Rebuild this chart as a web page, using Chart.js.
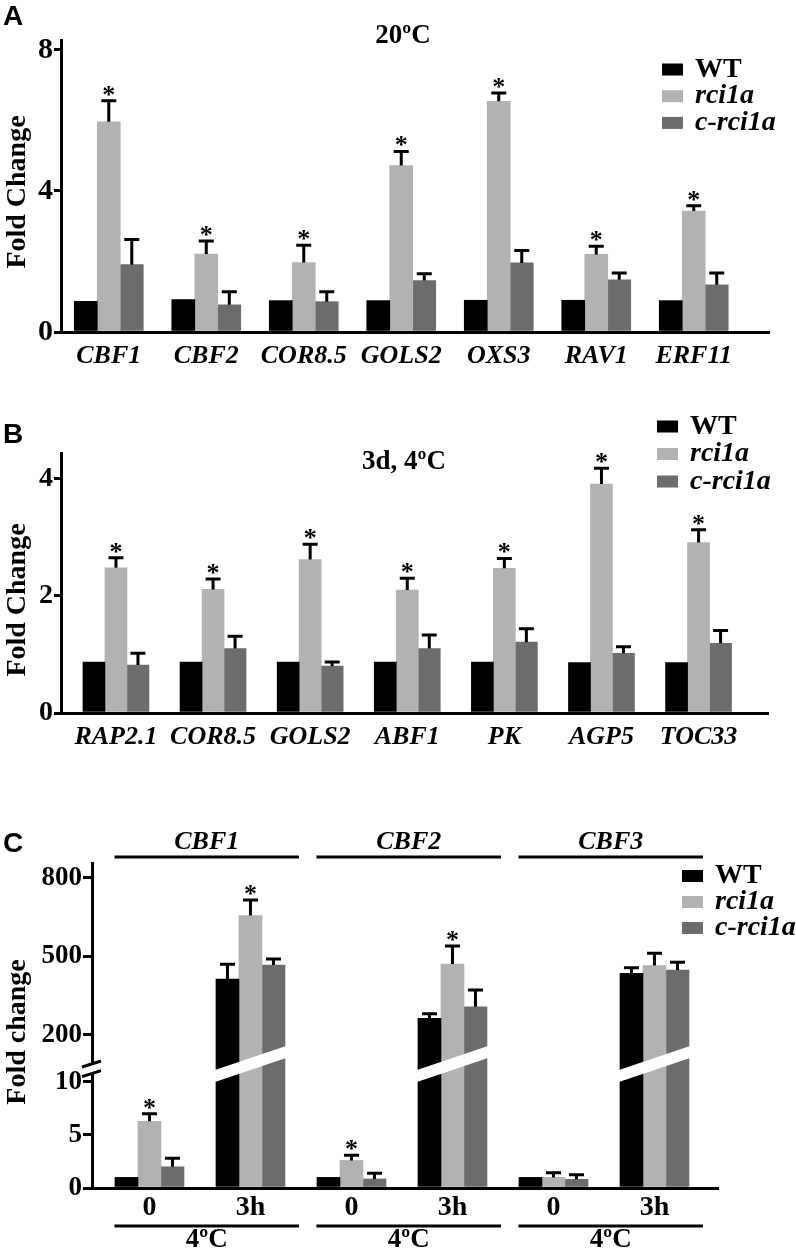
<!DOCTYPE html>
<html lang="en">

<head>
  <meta charset="UTF-8">
  <title>rci1a fold change</title>
  <script src="https://cdn.jsdelivr.net/npm/chart.js"></script>
  <style>
    body { margin: 0; background: #fff; }
    #fig { position: relative; width: 796px; height: 1259px; }
    canvas { position: absolute; left: 0; }
  </style>
</head>

<body>
  <div id="fig">
    <canvas id="chartA" width="796" height="385" style="top:0px"></canvas>
    <canvas id="chartB" width="796" height="405" style="top:385px"></canvas>
    <canvas id="chartC" width="796" height="469" style="top:790px"></canvas>
  </div>
  <script>
    // ---- data ----
    const series = ['WT', 'rci1a', 'c-rci1a'];
    const colors = ['#000000', '#b2b2b2', '#6c6c6c'];

    // A: 20ºC
    const genesA = ['CBF1', 'CBF2', 'COR8.5', 'GOLS2', 'OXS3', 'RAV1', 'ERF11'];
    const wtA = [0.87, 0.92, 0.89, 0.89, 0.90, 0.90, 0.89];
    const rciA = [5.96, 2.21, 1.97, 4.72, 6.54, 2.20, 3.43];
    const crciA = [1.91, 0.77, 0.86, 1.46, 1.96, 1.48, 1.34];
    const rciErrA = [0.60, 0.37, 0.49, 0.40, 0.24, 0.23, 0.15];
    const crciErrA = [0.71, 0.37, 0.28, 0.19, 0.35, 0.19, 0.33];
    const starsA = [true, true, true, true, true, true, true];
    const yTicksA = [0, 4, 8];

    // B: 3d, 4ºC
    const genesB = ['RAP2.1', 'COR8.5', 'GOLS2', 'ABF1', 'PK', 'AGP5', 'TOC33'];
    const wtB = [0.87, 0.87, 0.87, 0.87, 0.87, 0.86, 0.86];
    const rciB = [2.48, 2.11, 2.62, 2.10, 2.47, 3.91, 2.91];
    const crciB = [0.82, 1.10, 0.80, 1.10, 1.21, 1.02, 1.19];
    const rciErrB = [0.17, 0.18, 0.26, 0.20, 0.17, 0.27, 0.22];
    const crciErrB = [0.20, 0.21, 0.07, 0.23, 0.23, 0.11, 0.22];
    const starsB = [true, true, true, true, true, true, true];
    const yTicksB = [0, 2, 4];

    // C: CBF time course
    const genesC = ['CBF1', 'CBF2', 'CBF3'];
    const timesC = ['0', '3h', '0', '3h', '0', '3h'];
    const conditionC = '4ºC';
    const wtC = [1.0, 414, 1.0, 264, 1.0, 436];
    const rciC = [6.3, 656, 2.6, 471, 1.0, 465];
    const crciC = [2.0, 467, 0.85, 308, 0.82, 448];
    const wtErrC = [null, 56, null, 17, null, 21];
    const rciErrC = [0.7, 60, 0.5, 69, 0.45, 47];
    const crciErrC = [0.8, 23, 0.55, 64, 0.43, 30];
    const starsC = [true, true, true, true, false, false];
    const yTicksC = [0, 5, 10, 200, 500, 800];

    const SERIF = "'Liberation Serif', 'Times New Roman', serif";
    Chart.defaults.font.family = SERIF;
    Chart.defaults.color = '#000';

    // broken y scale: value -> fraction of the axis height, piecewise
    const breakLow = 10.5, breakHigh = 93;
    const breakMap = [[0, 0], [breakLow, 0.3425], [breakHigh, 0.3846], [857, 1]];

    class BrokenScale extends Chart.LinearScale {
      static id = 'broken';
      static defaults = Chart.LinearScale.defaults;
      getPixelForValue(value) {
        if (value === null || isNaN(value)) return NaN;
        let f = 0;
        for (let i = 1; i < breakMap.length; i++) {
          const [v0, f0] = breakMap[i - 1], [v1, f1] = breakMap[i];
          if (value <= v1 || i === breakMap.length - 1) {
            f = f0 + (value - v0) / (v1 - v0) * (f1 - f0);
            break;
          }
        }
        return this.bottom - f * (this.bottom - this.top);
      }
      getValueForPixel(pixel) {
        const f = (this.bottom - pixel) / (this.bottom - this.top);
        for (let i = 1; i < breakMap.length; i++) {
          const [v0, f0] = breakMap[i - 1], [v1, f1] = breakMap[i];
          if (f <= f1 || i === breakMap.length - 1) return v0 + (f - f0) / (f1 - f0) * (v1 - v0);
        }
      }
    }
    Chart.register(BrokenScale);

    function buildDatasets(values, thickness) {
      return series.map(function (name, s) {
        return {
          label: name,
          data: values[s].map(function (v, i) { return { x: i, y: v }; }),
          backgroundColor: colors[s],
          borderWidth: 0,
          barThickness: thickness
        };
      });
    }

    function xAxis(labels, min, max, font, padding, height) {
      return {
        type: 'linear', min: min, max: max, offset: false, bounds: 'data',
        afterBuildTicks: function (s) { s.ticks = labels.map(function (_, i) { return { value: i }; }); },
        afterFit: function (s) { s.height = height; },
        ticks: {
          callback: function (v) { return labels[v]; },
          font: font, padding: padding, autoSkip: false, maxRotation: 0, minRotation: 0, color: '#000'
        },
        grid: { display: false, drawTicks: false },
        border: { color: '#000', width: 3 }
      };
    }

    function yAxis(type, ticks, max, width, fontSize, tickLength) {
      return {
        type: type, min: 0, max: max, bounds: 'data',
        afterBuildTicks: function (s) { s.ticks = ticks.map(function (v) { return { value: v }; }); },
        afterFit: function (s) { s.width = width; },
        ticks: {
          callback: function (v) { return String(v); },
          font: { size: fontSize, weight: 'bold' }, padding: 1, color: '#000'
        },
        grid: { drawOnChartArea: false, drawTicks: true, tickLength: tickLength, color: '#000', lineWidth: 3 },
        border: { color: '#000', width: 3 }
      };
    }

    function decoPlugin(cfg) {
      return {
        id: 'deco',
        afterDatasetsDraw(chart) {
          const ctx = chart.ctx, xs = chart.scales.x, ys = chart.scales.y;
          ctx.save();
          // white slash on bars that cross the axis break
          if (cfg.broken) {
            const bw = cfg.barWidth;
            const mid = ys.getPixelForValue(breakHigh) + 1;
            timesC.forEach(function (_, i) {
              const crosses = chart.data.datasets.every(function (ds) { return ds.data[i].y > breakHigh; });
              if (!crosses) return;
              const xc = xs.getPixelForValue(i), xl = xc - 1.5 * bw - 1, xr = xc + 1.5 * bw + 1;
              const slope = -0.34;
              ctx.fillStyle = '#fff';
              ctx.beginPath();
              ctx.moveTo(xl, mid + slope * (xl - xc) - 6);
              ctx.lineTo(xr, mid + slope * (xr - xc) - 6);
              ctx.lineTo(xr, mid + slope * (xr - xc) + 6);
              ctx.lineTo(xl, mid + slope * (xl - xc) + 6);
              ctx.closePath();
              ctx.fill();
            });
          }
          // error bars + stars
          ctx.strokeStyle = '#000';
          ctx.fillStyle = '#000';
          ctx.lineWidth = 3;
          chart.data.datasets.forEach(function (ds, d) {
            const err = cfg.errors[d];
            if (!err) return;
            chart.getDatasetMeta(d).data.forEach(function (bar, i) {
              if (err[i] == null) return;
              const top = ys.getPixelForValue(ds.data[i].y + err[i]);
              ctx.beginPath();
              ctx.moveTo(bar.x, bar.y);
              ctx.lineTo(bar.x, top);
              ctx.moveTo(bar.x - 7.5, top);
              ctx.lineTo(bar.x + 7.5, top);
              ctx.stroke();
              if (d === 1 && cfg.stars[i]) {
                ctx.font = 'bold 26px ' + SERIF;
                ctx.textAlign = 'center';
                ctx.textBaseline = 'alphabetic';
                ctx.fillText('*', bar.x, top + 2);
              }
            });
          });
          ctx.restore();
        },
        afterDraw(chart) {
          const ctx = chart.ctx, xs = chart.scales.x, ys = chart.scales.y;
          ctx.save();
          ctx.fillStyle = '#000';
          ctx.strokeStyle = '#000';
          // panel letter
          ctx.font = "bold 28px 'Liberation Sans', Arial, sans-serif";
          ctx.textAlign = 'left';
          ctx.textBaseline = 'alphabetic';
          ctx.fillText(cfg.letter, 3, cfg.letterY);
          // title
          if (cfg.title) {
            ctx.font = 'bold 27px ' + SERIF;
            ctx.textAlign = 'center';
            ctx.textBaseline = 'middle';
            ctx.fillText(cfg.title, cfg.titleX, cfg.titleY);
          }
          // y title
          ctx.save();
          ctx.translate(17.5, cfg.yTitleY);
          ctx.rotate(-Math.PI / 2);
          ctx.font = 'bold 28px ' + SERIF;
          ctx.textAlign = 'center';
          ctx.textBaseline = 'middle';
          ctx.fillText(cfg.yTitle, 0, 0);
          ctx.restore();
          // legend
          chart.data.datasets.forEach(function (ds, d) {
            const cy = cfg.legendY + d * cfg.legendStep;
            ctx.fillStyle = ds.backgroundColor;
            ctx.fillRect(cfg.legendX, cy - 6, 21, 12);
            ctx.fillStyle = '#000';
            ctx.font = (ds.label === 'WT' ? '' : 'italic ') + 'bold 28px ' + SERIF;
            ctx.textAlign = 'left';
            ctx.textBaseline = 'middle';
            ctx.fillText(ds.label, cfg.legendX + 33, cy);
          });
          if (cfg.broken) {
            // axis break marks
            const ax = chart.chartArea.left;
            const gTop = ys.getPixelForValue(breakHigh), gBot = ys.getPixelForValue(breakLow);
            ctx.fillStyle = '#fff';
            ctx.fillRect(ax - 3, gTop + 2, 6, gBot - gTop - 6);
            ctx.lineWidth = 3;
            ctx.beginPath();
            ctx.moveTo(ax - 10, gTop + 4); ctx.lineTo(ax + 9, gTop - 2);
            ctx.moveTo(ax - 10, gBot); ctx.lineTo(ax + 9, gBot - 6);
            ctx.stroke();
            // gene headers and condition footers
            ctx.fillStyle = '#000';
            genesC.forEach(function (g, k) {
              const x0 = xs.getPixelForValue(2 * k) - 1.5 * cfg.barWidth - 0.5;
              const x1 = xs.getPixelForValue(2 * k + 1) + 1.5 * cfg.barWidth + 14;
              ctx.beginPath();
              ctx.moveTo(x0, 67); ctx.lineTo(x1, 67);
              ctx.moveTo(x0, 436); ctx.lineTo(x1, 436);
              ctx.stroke();
              ctx.textAlign = 'center';
              ctx.textBaseline = 'middle';
              ctx.font = 'italic bold 26px ' + SERIF;
              ctx.fillText(g, (x0 + x1) / 2, 52);
              ctx.font = 'bold 27px ' + SERIF;
              ctx.fillText(conditionC, (x0 + x1) / 2, 450);
            });
          }
          ctx.restore();
        }
      };
    }

    function makeChart(id, opts) {
      return new Chart(document.getElementById(id), {
        type: 'bar',
        data: { datasets: buildDatasets(opts.values, opts.barWidth) },
        options: {
          responsive: false,
          animation: false,
          events: [],
          layout: { padding: opts.padding },
          plugins: { legend: { display: false }, tooltip: { enabled: false } },
          scales: { x: opts.x, y: opts.y }
        },
        plugins: [decoPlugin(opts.deco)]
      });
    }

    const italicTick = { size: 26, weight: 'bold', style: 'italic' };

    makeChart('chartA', {
      values: [wtA, rciA, crciA],
      barWidth: 23,
      padding: { left: 0, top: 40, right: 27, bottom: 0 },
      x: xAxis(genesA, -0.49, 6.772, italicTick, 9, 53),
      y: yAxis('linear', yTicksA, 8.28, 61, 30, 7),
      deco: {
        errors: [null, rciErrA, crciErrA], stars: starsA, barWidth: 23,
        letter: 'A', letterY: 25, title: '20ºC', titleX: 403, titleY: 36,
        yTitle: 'Fold Change', yTitleY: 192,
        legendX: 662, legendY: 69.5, legendStep: 26.7
      }
    });

    makeChart('chartB', {
      values: [wtB, rciB, crciB],
      barWidth: 22,
      padding: { left: 0, top: 68, right: 28, bottom: 0 },
      x: xAxis(genesB, -0.566, 6.715, italicTick, 9, 77),
      y: yAxis('linear', yTicksB, 4.44, 61, 28, 7),
      deco: {
        errors: [null, rciErrB, crciErrB], stars: starsB, barWidth: 22,
        letter: 'B', letterY: 58, title: '3d, 4ºC', titleX: 404, titleY: 77,
        yTitle: 'Fold Change', yTitleY: 215,
        legendX: 657, legendY: 41.5, legendStep: 27.5
      }
    });

    makeChart('chartC', {
      values: [wtC, rciC, crciC],
      barWidth: 23,
      padding: { left: 0, top: 73, right: 78, bottom: 0 },
      x: xAxis(timesC, -0.569, 5.629, { size: 28, weight: 'bold' }, 3, 71),
      y: yAxis('broken', yTicksC, 857, 92, 27, 9),
      deco: {
        errors: [wtErrC, rciErrC, crciErrC], stars: starsC, barWidth: 23, broken: true,
        letter: 'C', letterY: 62, title: null,
        yTitle: 'Fold change', yTitleY: 242,
        legendX: 682, legendY: 86, legendStep: 26
      }
    });
  </script>
</body>

</html>
